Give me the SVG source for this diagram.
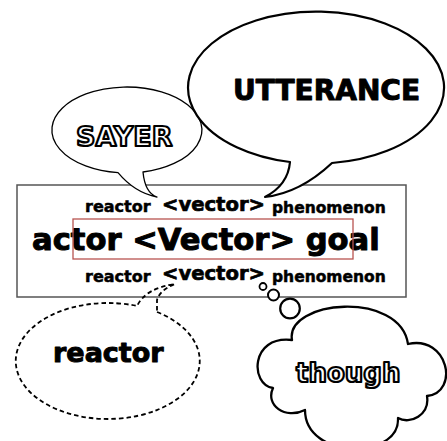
<svg xmlns="http://www.w3.org/2000/svg" width="447" height="441" viewBox="0 0 447 441">
  <style>
    text { font-family: "DejaVu Sans", Verdana, sans-serif; font-weight: bold; fill: #000; stroke: #000; stroke-linejoin: round; }
    .s { stroke-width: 0.5; }
    .m { stroke-width: 0.7; }
    .l { stroke-width: 1; }
    .outlined { fill: #fff; stroke: #000; stroke-width: 2.2; }
    .bubble { fill: #fff; stroke: #000; stroke-linejoin: round; }
    .frame { fill: #fff; stroke: #555; stroke-width: 1.5; }
    .focus { fill: none; stroke: #b85450; stroke-width: 1.3; }
    .dashed { fill: none; stroke: #000; stroke-width: 1.8; stroke-dasharray: 4.5 3; }
  </style>

  <!-- clause frame with the three lines of labels -->
  <g id="clause">
    <rect class="frame" x="17" y="185" width="389" height="112"/>
    <text class="s" x="85" y="212" font-size="16">reactor</text>
    <text class="m" x="162" y="211" font-size="19.6">&lt;vector&gt;</text>
    <text class="s" x="272" y="213" font-size="15.5">phenomenon</text>
    <text class="l" x="32" y="250" font-size="30.6">actor &lt;Vector&gt; goal</text>
    <rect class="focus" x="73" y="219" width="280" height="40"/>
    <text class="s" x="85" y="282" font-size="16">reactor</text>
    <text class="m" x="162" y="280" font-size="19.6">&lt;vector&gt;</text>
    <text class="s" x="272" y="282" font-size="15.5">phenomenon</text>
  </g>

  <g id="connectors">
    <!-- dashed speech bubble rising from the lower vector -->
    <path class="dashed" d="M157,312 A92,58 0 1 1 137,306 Q146,288 175,284 Q160,290 157,300 L157,312"/>
    <!-- thought trail toward the cloud -->
    <circle class="bubble" cx="263" cy="286.5" r="3.5" stroke-width="1.8"/>
    <circle class="bubble" cx="273.5" cy="295" r="5.5" stroke-width="2"/>
    <circle class="bubble" cx="290" cy="308.5" r="9.8" stroke-width="2.2"/>
  </g>

  <g id="sayer">
    <path class="bubble" stroke-width="1.3" d="M118,172.7 A75,43 0 1 1 143,172 Q145,193 157,197 Q135,193 118,172.7 Z"/>
    <text class="outlined" x="76" y="146" font-size="27">SAYER</text>
  </g>

  <g id="utterance">
    <path class="bubble" stroke-width="2.2" d="M290,162 A128,76 0 1 1 332,163 Q300,193 265,197 Q288,185 290,162 Z"/>
    <text class="l" x="233" y="100" font-size="28">UTTERANCE</text>
  </g>

  <g id="reactor">
    <text class="l" x="53" y="362" font-size="27">reactor</text>
  </g>

  <g id="though">
    <path class="bubble" stroke-width="2.3" d="M292,340 C285,300 400,290 408,344 C448,335 460,392 427,396 C430,415 410,425 398,418 C400,460 305,460 305,410 C285,420 265,405 273,388 C250,385 250,335 292,340 Z"/>
    <text class="outlined" x="296" y="382" font-size="26">though</text>
  </g>
</svg>
